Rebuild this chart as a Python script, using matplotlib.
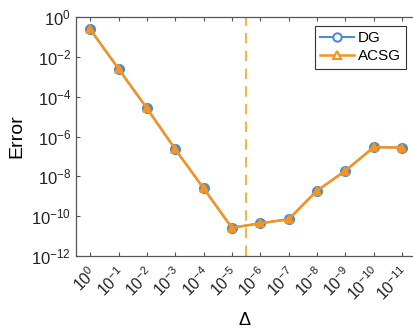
import matplotlib
matplotlib.use("Agg")
import matplotlib.pyplot as plt
import matplotlib.transforms as mtransforms
import numpy as np

plt.rcParams['font.family'] = ['Liberation Sans', 'DejaVu Sans']
plt.rcParams['mathtext.fontset'] = 'custom'
plt.rcParams['mathtext.rm'] = 'Liberation Sans'
plt.rcParams['mathtext.it'] = 'Liberation Sans'
plt.rcParams['mathtext.bf'] = 'Liberation Sans'

# data
xtick_labels = ['$10^{%d}$' % (-k) for k in range(12)]
dg_err = [0.24, 2.5e-3, 2.6e-5, 2.3e-7, 2.5e-9, 2.6e-11, 4.4e-11, 7.0e-11,
          1.9e-9, 1.9e-8, 2.9e-7, 2.8e-7]
acsg_err = [0.24, 2.5e-3, 2.6e-5, 2.3e-7, 2.5e-9, 2.6e-11, 4.4e-11, 7.0e-11,
            1.9e-9, 1.9e-8, 2.9e-7, 2.8e-7]
split_pos = 6.5

blue = '#4f8fc9'
orange = '#f7931e'
yellow = '#edb845'
axcol = '#555555'

fig = plt.figure(figsize=(4.14, 3.30), dpi=100)
ax = fig.add_axes([76 / 414, 1 - 256 / 330, (416.2 - 76) / 414, (256 - 17) / 330])

x = np.arange(1, len(dg_err) + 1)
ax.plot(x, dg_err, color=blue, lw=1.5, marker='o', ms=6.5, mfc=blue,
        mec=blue, mew=1.5, label='DG')
ax.plot(x, acsg_err, color=orange, lw=1.8, marker='^', ms=6, mfc=orange,
        mec=orange, mew=1.2, label='ACSG')
ax.axvline(split_pos, color=yellow, lw=1.5, ls=(0, (5, 3.5)))

ax.set_yscale('log')
ax.set_ylim(1e-12, 1)
ax.set_xlim(0.5, 12.5)
ax.set_yticks([10.0 ** (-k) for k in range(0, 13, 2)])
ax.set_yticklabels(['$10^{%d}$' % (-k) for k in range(0, 13, 2)])
ax.yaxis.set_minor_locator(matplotlib.ticker.NullLocator())
ax.set_xticks(x)
ax.set_xticklabels(xtick_labels, rotation=45, ha='right', va='center',
                   rotation_mode='anchor')

ax.tick_params(direction='in', length=3, width=0.8, color=axcol,
               labelsize=12, top=True, right=False, labelcolor='#222222')
ax.tick_params(axis='x', pad=10, labelsize=11.5)
for s in ax.spines.values():
    s.set_color(axcol)
    s.set_linewidth(0.9)

shift = mtransforms.ScaledTranslation(4 / 100, 0, fig.dpi_scale_trans)
for lbl in ax.get_xticklabels():
    lbl.set_transform(lbl.get_transform() + shift)

ax.set_xlabel('Δ', fontsize=13)
ax.xaxis.set_label_coords((245 - 76) / (416.2 - 76), -(312 - 256) / (256 - 17))
ax.set_ylabel('Error', fontsize=14, labelpad=4)

leg_dg = ax.plot([], [], color=blue, lw=1.5, marker='o', ms=6, mfc='white',
                 mec=blue, mew=1.5)[0]
leg_acsg = ax.plot([], [], color=orange, lw=1.8, marker='^', ms=6, mfc='white',
                   mec=orange, mew=1.5)[0]
leg = ax.legend([leg_dg, leg_acsg], ['DG', 'ACSG'], loc='upper right',
                bbox_to_anchor=(406 / 414, 1 - 26 / 330),
                bbox_transform=fig.transFigure, fontsize=11, fancybox=False,
                framealpha=1, edgecolor='#333333', borderpad=0.35,
                handlelength=2.2, handletextpad=0.25, labelspacing=0.25,
                borderaxespad=0)
leg.get_frame().set_linewidth(0.8)

fig.savefig('out.png', dpi=100)
